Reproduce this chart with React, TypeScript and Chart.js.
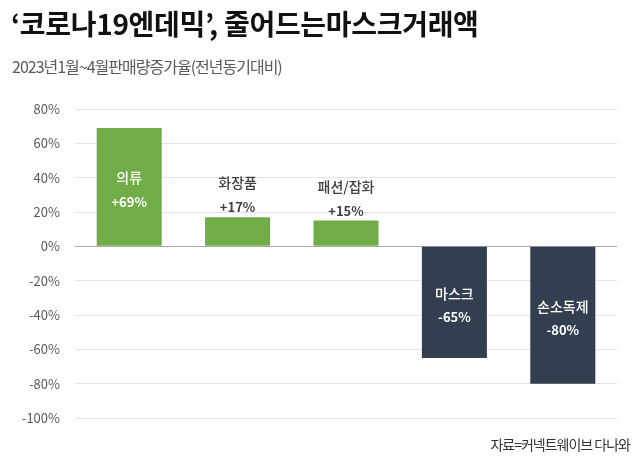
import React, { useEffect, useRef } from "react";
import { Chart, registerables } from "chart.js";

Chart.register(...registerables);

const categories = ["의류", "화장품", "패션/잡화", "마스크", "손소독제"];
const values = [69, 17, 15, -65, -80];
const valueLabels = ["+69%", "+17%", "+15%", "-65%", "-80%"];
const labelInside = [true, false, false, true, true];
const barColors = ["#70ad47", "#70ad47", "#70ad47", "#333f50", "#333f50"];
const yTicks = [80, 60, 40, 20, 0, -20, -40, -60, -80, -100];

const FONT = "'Noto Sans CJK KR', 'Noto Sans', sans-serif";

const labelPlugin = {
  id: "barLabels",
  afterDatasetsDraw(chart: any) {
    const meta = chart.getDatasetMeta(0);
    const ctx = chart.ctx;
    ctx.save();
    ctx.textAlign = "center";
    ctx.textBaseline = "middle";
    meta.data.forEach((bar: any, i: number) => {
      const x = bar.x;
      let nameY: number;
      let valY: number;
      if (labelInside[i]) {
        const c = (bar.y + bar.base) / 2 + 2;
        nameY = c - 11;
        valY = c + 13;
        ctx.fillStyle = "#ffffff";
      } else {
        nameY = bar.y - 34;
        valY = bar.y - 10;
        ctx.fillStyle = "#404040";
      }
      ctx.font = `500 14px ${FONT}`;
      ctx.fillText(categories[i], x, nameY);
      ctx.font = `bold 13px ${FONT}`;
      ctx.fillText(valueLabels[i], x, valY);
    });
    ctx.restore();
  },
};

export default function App() {
  const ref = useRef<HTMLCanvasElement>(null);
  useEffect(() => {
    if (!ref.current) return;
    const chart = new Chart(ref.current, {
      type: "bar",
      data: {
        labels: categories,
        datasets: [
          {
            data: values,
            backgroundColor: barColors,
            borderWidth: 0,
            categoryPercentage: 1,
            barPercentage: 0.6,
          },
        ],
      },
      options: {
        animation: false,
        responsive: false,
        devicePixelRatio: 1,
        layout: { padding: { top: 109, bottom: 44, left: 0, right: 23 } },
        plugins: { legend: { display: false }, tooltip: { enabled: false } },
        scales: {
          x: { display: false },
          y: {
            min: -100,
            max: 80,
            afterFit: (s: any) => {
              s.width = 75;
            },
            afterBuildTicks: (s: any) => {
              s.ticks = yTicks.map((v) => ({ value: v }));
            },
            border: { display: false },
            grid: {
              drawTicks: false,
              color: (c: any) => (c.tick && c.tick.value === 0 ? "#a8a8a8" : "#e4e4e4"),
              lineWidth: 1,
            },
            ticks: {
              padding: 15,
              color: "#595959",
              font: { family: FONT, size: 13 },
              callback: (v: any) => `${v}%`,
            },
          },
        },
      },
      plugins: [labelPlugin],
    });
    return () => chart.destroy();
  }, []);

  return (
    <div style={{ position: "fixed", left: 0, top: 0, width: 640, height: 462, background: "#fff", overflow: "hidden" }}>
      <canvas ref={ref} width={640} height={462} style={{ position: "absolute", left: 0, top: 0, width: 640, height: 462 }} />
      <div
        style={{
          position: "absolute",
          left: 11,
          top: 4,
          fontFamily: FONT,
          fontWeight: 700,
          fontSize: 28,
          letterSpacing: -0.3,
          color: "#111",
          lineHeight: "38px",
          whiteSpace: "nowrap",
        }}
      >
        ‘코로나19엔데믹’, 줄어드는마스크거래액
      </div>
      <div
        style={{
          position: "absolute",
          left: 12,
          top: 55,
          fontFamily: FONT,
          fontSize: 16,
          letterSpacing: -1,
          color: "#595959",
          lineHeight: "22px",
          whiteSpace: "nowrap",
        }}
      >
        2023년1월~4월판매량증가율(전년동기대비)
      </div>
      <div
        style={{
          position: "absolute",
          right: 10,
          top: 434,
          fontFamily: FONT,
          fontSize: 14,
          letterSpacing: -1,
          color: "#333",
          lineHeight: "20px",
          whiteSpace: "nowrap",
        }}
      >
        자료=커넥트웨이브 다나와
      </div>
    </div>
  );
}
